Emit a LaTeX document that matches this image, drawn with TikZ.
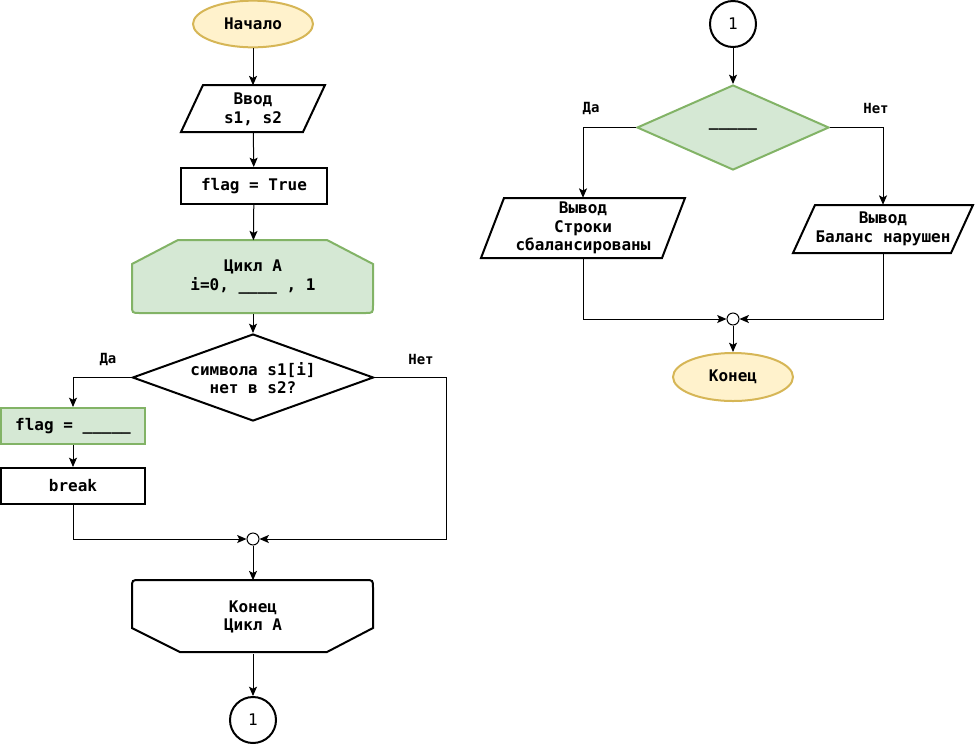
\documentclass[tikz,border=0pt]{standalone}
\usepackage{fontspec}
\setmainfont{DejaVu Sans Mono}
\usetikzlibrary{shapes.geometric,arrows.meta,calc}
\definecolor{yfill}{HTML}{FFF2CC}
\definecolor{ydraw}{HTML}{D6B656}
\definecolor{gfill}{HTML}{D5E8D4}
\definecolor{gdraw}{HTML}{82B366}
\tikzset{
 base/.style={inner sep=0pt, align=center, font=\fontsize{12}{14}\selectfont\bfseries},
 proc/.style={base, draw, line width=1.5pt, rectangle, minimum width=109.5pt, minimum height=27pt},
 gproc/.style={proc, fill=gfill, draw=gdraw, minimum width=108pt},
 bproc/.style={proc, minimum width=108pt},
 term/.style={base, ellipse, draw=ydraw, fill=yfill, line width=1.5pt, minimum width=90pt, minimum height=35pt},
 conn/.style={base, circle, draw, line width=1.5pt, minimum size=34.5pt, font=\fontsize{12}{14}\selectfont},
 junc/.style={circle, draw, fill=white, line width=0.75pt, minimum size=9pt, inner sep=0pt},
 lbl/.style={font=\fontsize{10.5}{12}\selectfont\bfseries, inner sep=0pt},
 arr/.style={draw, line width=0.75pt, -{Stealth[length=7pt,width=6pt,inset=1.5pt]}},
 shp/.style={line width=1.5pt, line join=miter},
 dia/.style={diamond, draw, line width=1.5pt, inner sep=0pt},
}
\begin{document}
\begin{tikzpicture}[x=0.75pt,y=-0.75pt]
\useasboundingbox (0,0) rectangle (975,747);
% ---------- left column ----------
\node[term] (start) at (253,24) {Начало};
\draw[shp] (181,132) -- (203,85) -- (325,85) -- (303,132) -- cycle;
\node[base, minimum height=35.25pt] (in) at (253,109) {Ввод\\s1, s2};
\node[proc] (flagT) at (254,186) {flag = True};
\draw[shp, fill=gfill, draw=gdraw] (178,240) -- (327,240) -- (373,264) -- (373,305) .. controls (373,313) .. (365,313) -- (140,313) .. controls (132,313) .. (132,305) -- (132,264) -- cycle;
\node[base, minimum height=54.75pt] (loop) at (253,277) {Цикл А\\i=0, \_\_\_\_ , 1};
\node[dia, minimum width=180.75pt, minimum height=65.25pt] (d1) at (253,377.5) {};
\node[base] at (253,378) {символа s1[i]\\нет в s2?};
\node[gproc] (flagF) at (73,426) {flag = \_\_\_\_\_};
\node[bproc] (brk) at (73,486) {break};
\node[junc] (j1) at (253,539) {};
\draw[shp] (132,628) -- (132,588) .. controls (132,580) .. (140,580) -- (365,580) .. controls (373,580) .. (373,588) -- (373,628) -- (327,652) -- (180,652) -- cycle;
\node[base, minimum height=54.75pt] (lend) at (253,617) {Конец\\Цикл А};
\node[conn] (c1) at (253,720) {1};
\node[lbl] at (108,359) {Да};
\node[lbl] at (421,359) {Нет};
\draw[arr] (start) -- (in);
\draw[arr] (in) -- (flagT);
\draw[arr] (flagT) -- (loop);
\draw[arr] (loop) -- (d1);
\draw[arr] (d1.west) -| (flagF.north);
\draw[arr] (flagF) -- (brk);
\draw[arr] (brk.south) |- (j1.west);
\draw[arr] (d1.east) -- ++(72,0) |- (j1.east);
\draw[arr] (j1) -- (lend);
\draw[arr] (lend) -- (c1);
% ---------- right column ----------
\node[conn] (c2) at (733,24) {1};
\node[dia, fill=gfill, draw=gdraw, minimum width=144pt, minimum height=63.75pt] (d2) at (733,127.5) {};
\node[base] at (733,128) {\_\_\_\_\_};
\draw[shp] (481,258) -- (504,198) -- (685,198) -- (662,258) -- cycle;
\node[base, minimum height=45pt] (out1) at (583,228) {Вывод\\Строки\\сбалансированы};
\draw[shp] (793,253) -- (815,205) -- (973,205) -- (951,253) -- cycle;
\node[base, minimum height=36pt] (out2) at (883,229) {Вывод\\Баланс нарушен};
\node[junc] (j2) at (733,319) {};
\node[term, minimum height=36pt] (fin) at (733,377) {Конец};
\node[lbl] at (591,108) {Да};
\node[lbl] at (876,108) {Нет};
\draw[arr] (c2) -- (d2);
\draw[arr] (d2.west) -| (out1.north);
\draw[arr] (d2.east) -| (out2.north);
\draw[arr] (out1.south) |- (j2.west);
\draw[arr] (out2.south) |- (j2.east);
\draw[arr] (j2) -- (fin);
\end{tikzpicture}
\end{document}
